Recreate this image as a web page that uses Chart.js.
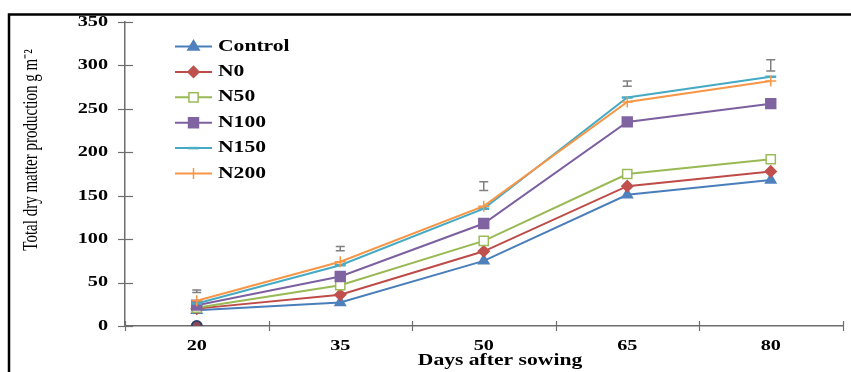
<!DOCTYPE html>
<html>
<head>
<meta charset="utf-8">
<script src="https://cdn.jsdelivr.net/npm/chart.js@4.4.1/dist/chart.umd.min.js"></script>
<style>
  html, body { margin: 0; padding: 0; background: #fff; }
  #wrap { width: 851px; height: 372px; }
</style>
</head>
<body>
<div id="wrap"><canvas id="chart" width="851" height="372"></canvas></div>
<script>
// data
const categories = ['20', '35', '50', '65', '80'];
const control = [18, 27, 75, 151, 168];
const n0 = [20, 36, 86, 161, 178];
const n50 = [21, 47, 98, 175, 192];
const n100 = [24, 57, 118, 235, 256];
const n150 = [26, 70, 135, 263, 287];
const n200 = [29, 74, 138, 258, 282];
const zeroMark = [0, null, null, null, null];
const errMid = [40, 89, 161, 279, 300];
const errHalf = [1.5, 2.5, 5, 3, 6.5];
const yTicks = [0, 50, 100, 150, 200, 250, 300, 350];

const STRETCH = 1.35;
const SERIF = "'Liberation Serif', 'Times New Roman', serif";

function stretchedText(ctx, txt, x, y, align, font) {
  ctx.save();
  ctx.font = font;
  ctx.textAlign = align;
  ctx.textBaseline = 'middle';
  ctx.fillStyle = '#000';
  ctx.translate(x, y);
  ctx.scale(STRETCH, 1);
  ctx.fillText(txt, 0, 0);
  ctx.restore();
}

function drawMarker(ctx, style, x, y, r, fill, stroke) {
  ctx.save();
  ctx.fillStyle = fill;
  ctx.strokeStyle = stroke;
  ctx.lineWidth = 1.5;
  ctx.beginPath();
  if (style === 'triangle') {
    ctx.moveTo(x, y - r);
    ctx.lineTo(x + r * 0.95, y + r * 0.6);
    ctx.lineTo(x - r * 0.95, y + r * 0.6);
    ctx.closePath(); ctx.fill(); ctx.stroke();
  } else if (style === 'rectRot') {
    ctx.moveTo(x, y - r); ctx.lineTo(x + r, y); ctx.lineTo(x, y + r); ctx.lineTo(x - r, y);
    ctx.closePath(); ctx.fill(); ctx.stroke();
  } else if (style === 'rect') {
    const s = r * Math.SQRT1_2;
    ctx.rect(x - s, y - s, 2 * s, 2 * s); ctx.fill(); ctx.stroke();
  } else if (style === 'line') {
    ctx.lineWidth = 2.5;
    ctx.moveTo(x - r, y); ctx.lineTo(x + r, y); ctx.stroke();
  } else if (style === 'cross') {
    ctx.moveTo(x, y - r); ctx.lineTo(x, y + r); ctx.stroke();
  }
  ctx.restore();
}

const decor = {
  id: 'decor',
  beforeDraw(chart) {
    const ctx = chart.ctx;
    ctx.save();
    ctx.fillStyle = '#fff';
    ctx.fillRect(0, 0, chart.width, chart.height);
    ctx.strokeStyle = '#000';
    ctx.lineWidth = 2.5;
    ctx.beginPath();
    ctx.moveTo(9, 372); ctx.lineTo(9, 14.5); ctx.lineTo(851, 14.5);
    ctx.stroke();
    ctx.restore();
  },
  afterDatasetsDraw(chart) {
    const ctx = chart.ctx;
    const xs = chart.scales.x, ys = chart.scales.y;
    const area = chart.chartArea;
    ctx.save();
    // error bars
    ctx.strokeStyle = '#808080';
    ctx.lineWidth = 1.5;
    errMid.forEach((m, i) => {
      const px = xs.getPixelForValue(i);
      const top = ys.getPixelForValue(m + errHalf[i]);
      const bot = ys.getPixelForValue(m - errHalf[i]);
      ctx.beginPath();
      ctx.moveTo(px, top); ctx.lineTo(px, bot);
      ctx.moveTo(px - 4.5, top); ctx.lineTo(px + 4.5, top);
      ctx.moveTo(px - 4.5, bot); ctx.lineTo(px + 4.5, bot);
      ctx.stroke();
    });
    // cross tick marks
    ctx.strokeStyle = '#6e6e6e';
    ctx.lineWidth = 1.2;
    yTicks.forEach(v => {
      const py = Math.round(ys.getPixelForValue(v)) + 0.5;
      ctx.beginPath(); ctx.moveTo(area.left - 7, py); ctx.lineTo(area.left + 8, py); ctx.stroke();
    });
    for (let i = 0; i <= categories.length; i++) {
      let px;
      if (i === 0) px = area.left;
      else if (i === categories.length) px = area.right;
      else px = (xs.getPixelForValue(i - 1) + xs.getPixelForValue(i)) / 2;
      px = Math.round(px) + 0.5;
      ctx.beginPath(); ctx.moveTo(px, area.bottom - 5); ctx.lineTo(px, area.bottom + 5); ctx.stroke();
    }
    ctx.restore();

    // tick labels
    const tickFont = 'bold 15px ' + SERIF;
    yTicks.forEach(v => {
      stretchedText(ctx, String(v), 108, ys.getPixelForValue(v), 'right', tickFont);
    });
    categories.forEach((c, i) => {
      stretchedText(ctx, c, xs.getPixelForValue(i), 346, 'center', tickFont);
    });
    // axis titles
    stretchedText(ctx, 'Days after sowing', 500, 361, 'center', 'bold 16px ' + SERIF);
    ctx.save();
    ctx.translate(32, 150);
    ctx.scale(STRETCH, 1);
    ctx.rotate(-Math.PI / 2);
    ctx.font = '15px ' + SERIF;
    ctx.textAlign = 'center';
    ctx.textBaseline = 'middle';
    ctx.fillStyle = '#000';
    ctx.fillText('Total dry matter production g m\u207B\u00B2', 0, 0);
    ctx.restore();

    // legend
    const legendFont = 'bold 16px ' + SERIF;
    chart.data.datasets.forEach((ds, i) => {
      if (!ds.inLegend) return;
      const ly = 46.5 + ds.legendRow * 25.4;
      ctx.save();
      ctx.strokeStyle = ds.borderColor;
      ctx.lineWidth = 2;
      ctx.beginPath(); ctx.moveTo(175, ly); ctx.lineTo(212, ly); ctx.stroke();
      ctx.restore();
      drawMarker(ctx, ds.pointStyle, 193.5, ly, ds.pointRadius, ds.pointBackgroundColor, ds.pointBorderColor);
      stretchedText(ctx, ds.label, 218, ly, 'left', legendFont);
    });
  }
};

function series(label, data, line, mark, fill, style, radius, row) {
  return {
    label: label,
    data: data,
    borderColor: line,
    borderWidth: 2,
    pointStyle: style,
    pointRadius: radius,
    pointBackgroundColor: fill,
    pointBorderColor: mark,
    pointBorderWidth: style === 'line' ? 2.5 : 1.5,
    tension: 0,
    fill: false,
    inLegend: true,
    legendRow: row,
    order: 6 - row
  };
}

const datasets = [
  series('Control', control, '#4A7EBB', '#4F81BD', '#4F81BD', 'triangle', 6, 0),
  series('N0', n0, '#BE4B48', '#C0504D', '#C0504D', 'rectRot', 5.5, 1),
  series('N50', n50, '#98B954', '#9BBB59', '#ffffff', 'rect', 6.5, 2),
  series('N100', n100, '#7D60A0', '#8064A2', '#8064A2', 'rect', 7, 3),
  series('N150', n150, '#46AAC5', '#4BACC6', '#4BACC6', 'line', 5.5, 4),
  series('N200', n200, '#F79646', '#F79646', '#F79646', 'cross', 5.5, 5),
  {
    label: 'zero',
    data: zeroMark,
    showLine: false,
    pointStyle: 'circle',
    pointRadius: 5,
    pointBackgroundColor: '#8E4A52',
    pointBorderColor: '#2F3F66',
    pointBorderWidth: 2,
    inLegend: false,
    order: -1
  }
];

new Chart(document.getElementById('chart'), {
  type: 'line',
  data: { labels: categories, datasets: datasets },
  plugins: [decor],
  options: {
    responsive: false,
    animation: false,
    layout: { padding: { left: 10, right: 5, top: 22, bottom: 0 } },
    plugins: { legend: { display: false }, tooltip: { enabled: false } },
    scales: {
      x: {
        offset: true,
        grid: { display: false, drawTicks: false },
        border: { display: true, color: '#6e6e6e', width: 1.5 },
        ticks: { display: false },
        afterFit: s => { s.height = 46; }
      },
      y: {
        min: 0,
        max: 350,
        grid: { display: false, drawTicks: false },
        border: { display: true, color: '#6e6e6e', width: 1.5 },
        ticks: { display: false, stepSize: 50 },
        afterFit: s => { s.width = 115; }
      }
    }
  }
});
</script>
</body>
</html>
